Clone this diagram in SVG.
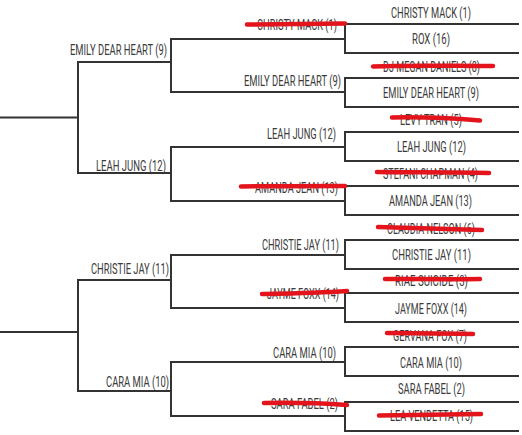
<svg xmlns="http://www.w3.org/2000/svg" width="522" height="435" viewBox="0 0 522 435">
<style>
.ln{fill:none;stroke:#333;stroke-width:2;stroke-linecap:square}
.t{font-family:Roboto,"Liberation Sans",sans-serif;font-size:14.5px;fill:#3a3a3a}
.s{fill:none;stroke:#e3141b;stroke-width:4.5;stroke-linecap:round;stroke-linejoin:round}
</style>
<rect width="522" height="435" fill="#fff"/>
<g id="connectors">
<path class="ln" d="M518,24H345V53H518M518,78H345V107H518M518,132H345V161H518M518,186H345V215H518M518,240H345V269H518M518,293H345V322H518M518,347H345V376H518M518,402H345V431H518"/>
<path class="ln" d="M345,39H171V92H345M345,147H171V201H345M345,255H171V308H345M345,362H171V416H345"/>
<path class="ln" d="M171,62H78V173H171M171,280H78V391H171"/>
<path class="ln" d="M0,117.5H78M0,332H78"/>
</g>
<g id="r1-1"><text class="t" x="391" y="17.5" textLength="80" lengthAdjust="spacingAndGlyphs">CHRISTY MACK (1)</text></g>
<g id="r1-2"><text class="t" x="412" y="43.5" textLength="38" lengthAdjust="spacingAndGlyphs">ROX (16)</text></g>
<g id="r1-3"><text class="t" x="383" y="71.5" textLength="97" lengthAdjust="spacingAndGlyphs">DJ MEGAN DANIELS (8)</text><path class="s" d="M373,66.5C410,65 450,66 493,66"/></g>
<g id="r1-4"><text class="t" x="383" y="97.5" textLength="96" lengthAdjust="spacingAndGlyphs">EMILY DEAR HEART (9)</text></g>
<g id="r1-5"><text class="t" x="400" y="124.5" textLength="62" lengthAdjust="spacingAndGlyphs">LEVY TRAN (5)</text><path class="s" d="M392,117.5C420,117 450,118 480,120.5"/></g>
<g id="r1-6"><text class="t" x="397" y="151.5" textLength="69" lengthAdjust="spacingAndGlyphs">LEAH JUNG (12)</text></g>
<g id="r1-7"><text class="t" x="383" y="178.5" textLength="95" lengthAdjust="spacingAndGlyphs">STEFANI CHAPMAN (4)</text><path class="s" d="M377,172C410,172.5 450,172 489,173"/></g>
<g id="r1-8"><text class="t" x="389" y="205.5" textLength="83" lengthAdjust="spacingAndGlyphs">AMANDA JEAN (13)</text></g>
<g id="r1-9"><text class="t" x="387" y="233.5" textLength="88" lengthAdjust="spacingAndGlyphs">CLAUDIA NELSON (6)</text><path class="s" d="M378,227C410,228 450,229 482,230"/></g>
<g id="r1-10"><text class="t" x="392" y="259.5" textLength="79" lengthAdjust="spacingAndGlyphs">CHRISTIE JAY (11)</text></g>
<g id="r1-11"><text class="t" x="395" y="285.5" textLength="73" lengthAdjust="spacingAndGlyphs">RIAE SUICIDE (3)</text><path class="s" d="M385,279C415,279 450,279.5 480,279"/></g>
<g id="r1-12"><text class="t" x="395" y="313.5" textLength="72" lengthAdjust="spacingAndGlyphs">JAYME FOXX (14)</text></g>
<g id="r1-13"><text class="t" x="393" y="340.5" textLength="74" lengthAdjust="spacingAndGlyphs">GERVANA FOX (7)</text><path class="s" d="M387,333C415,333 445,333.5 473,334"/></g>
<g id="r1-14"><text class="t" x="400" y="367.5" textLength="62" lengthAdjust="spacingAndGlyphs">CARA MIA (10)</text></g>
<g id="r1-15"><text class="t" x="398" y="393.5" textLength="67" lengthAdjust="spacingAndGlyphs">SARA FABEL (2)</text></g>
<g id="r1-16"><text class="t" x="390" y="420.5" textLength="83" lengthAdjust="spacingAndGlyphs">LEA VENDETTA (15)</text><path class="s" d="M379,415.5C410,415 450,414.5 481,414"/></g>
<g id="r2-1"><text class="t" x="257" y="29.5" textLength="80" lengthAdjust="spacingAndGlyphs">CHRISTY MACK (1)</text><path class="s" d="M247,24.5C280,24 315,24 345,23.5"/></g>
<g id="r2-2"><text class="t" x="244" y="85.5" textLength="97" lengthAdjust="spacingAndGlyphs">EMILY DEAR HEART (9)</text></g>
<g id="r2-3"><text class="t" x="267" y="138.5" textLength="69" lengthAdjust="spacingAndGlyphs">LEAH JUNG (12)</text></g>
<g id="r2-4"><text class="t" x="255" y="192.5" textLength="83" lengthAdjust="spacingAndGlyphs">AMANDA JEAN (13)</text><path class="s" d="M241,186.5C275,186 310,186 345,186"/></g>
<g id="r2-5"><text class="t" x="262" y="249.5" textLength="77" lengthAdjust="spacingAndGlyphs">CHRISTIE JAY (11)</text></g>
<g id="r2-6"><text class="t" x="267" y="298.5" textLength="72" lengthAdjust="spacingAndGlyphs">JAYME FOXX (14)</text><path class="s" d="M262,294C290,293.5 320,293 347,291"/></g>
<g id="r2-7"><text class="t" x="273" y="357.5" textLength="63" lengthAdjust="spacingAndGlyphs">CARA MIA (10)</text></g>
<g id="r2-8"><text class="t" x="271" y="408.5" textLength="67" lengthAdjust="spacingAndGlyphs">SARA FABEL (2)</text><path class="s" d="M264,403C290,402.5 320,403 347,405"/></g>
<g id="r3-1"><text class="t" x="70" y="54.5" textLength="97" lengthAdjust="spacingAndGlyphs">EMILY DEAR HEART (9)</text></g>
<g id="r3-2"><text class="t" x="96" y="170.5" textLength="70" lengthAdjust="spacingAndGlyphs">LEAH JUNG (12)</text></g>
<g id="r3-3"><text class="t" x="91" y="273.5" textLength="78" lengthAdjust="spacingAndGlyphs">CHRISTIE JAY (11)</text></g>
<g id="r3-4"><text class="t" x="106" y="386.5" textLength="63" lengthAdjust="spacingAndGlyphs">CARA MIA (10)</text></g>
</svg>
